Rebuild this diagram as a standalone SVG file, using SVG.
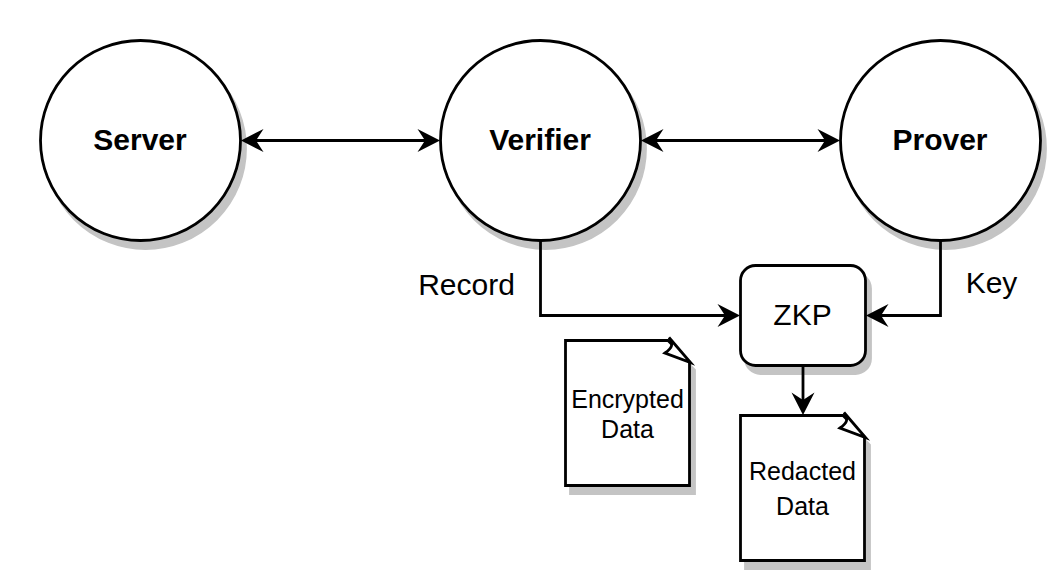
<svg xmlns="http://www.w3.org/2000/svg" width="1064" height="587" viewBox="0 0 1064 587">
<style>
.s{fill:none;stroke:#000;stroke-width:2.800}
.sh{fill:#c4c4c4;stroke:#c4c4c4;stroke-width:2.800}
.n{fill:#fff;stroke:#000;stroke-width:2.800}
.f{fill:#fff;stroke:#000;stroke-width:2.800;stroke-linejoin:miter;stroke-miterlimit:10}
text{font-family:"Liberation Sans",Arial,sans-serif;fill:#000;text-anchor:middle}
.b{font-size:30px;font-weight:bold}
.m{font-size:30px}
.d{font-size:25px}
</style>
<defs>
<path id="ah" d="M0 0L-22.500 -11.500L-15 0L-22.500 11.500Z" fill="#000"/>
</defs>
<rect width="1064" height="587" fill="#fff"/>
<g id="server"><circle class="sh" cx="145.500" cy="148.500" r="100"/><circle class="n" cx="140.500" cy="140.500" r="100"/><text class="b" x="140" y="150">Server</text></g>
<g id="verifier"><circle class="sh" cx="545.500" cy="148.500" r="100"/><circle class="n" cx="540.500" cy="140.500" r="100"/><text class="b" x="540" y="150">Verifier</text></g>
<g id="prover"><circle class="sh" cx="945.500" cy="148.500" r="100"/><circle class="n" cx="940.500" cy="140.500" r="100"/><text class="b" x="940" y="150">Prover</text></g>
<g id="zkp"><rect class="sh" x="745.500" y="273.500" width="125" height="100" rx="15"/><rect class="n" x="740.500" y="265.500" width="125" height="100" rx="15"/><text class="m" x="802.500" y="325">ZKP</text></g>
<g id="encrypted-data"><path class="sh" d="M570.500 348.500H673L694.500 370V493.500H570.500Z"/><path class="n" d="M565.500 340.500H668L689.500 362V485.500H565.500Z"/><path class="f" d="M669 337.500C674 344 672 348 665 353L690.500 362.500Z"/><text class="d" x="627.500" y="408">Encrypted</text><text class="d" x="627.500" y="438">Data</text></g>
<g id="redacted-data"><path class="sh" d="M745.500 423.500H848L869.500 445V568.500H745.500Z"/><path class="n" d="M740.500 415.500H843L864.500 437V560.500H740.500Z"/><path class="f" d="M844 412.500C849 419 847 423 840 428L865.500 437.500Z"/><text class="d" x="802.500" y="480">Redacted</text><text class="d" x="802.500" y="515">Data</text></g>
<g id="connectors">
<path class="s" d="M255 140.500H426M655 140.500H826M540.500 240.500V315.500H726M940.500 240.500V315.500H880M803 365.500V400"/>
<use href="#ah" transform="translate(241,140.500) rotate(180)"/>
<use href="#ah" transform="translate(440,140.500)"/>
<use href="#ah" transform="translate(641,140.500) rotate(180)"/>
<use href="#ah" transform="translate(840,140.500)"/>
<use href="#ah" transform="translate(740,315.500)"/>
<use href="#ah" transform="translate(866,315.500) rotate(180)"/>
<use href="#ah" transform="translate(803,415) rotate(90)"/>
</g>
<g id="labels"><text class="m" x="466.500" y="295">Record</text><text class="m" x="991.500" y="293">Key</text></g>
</svg>
